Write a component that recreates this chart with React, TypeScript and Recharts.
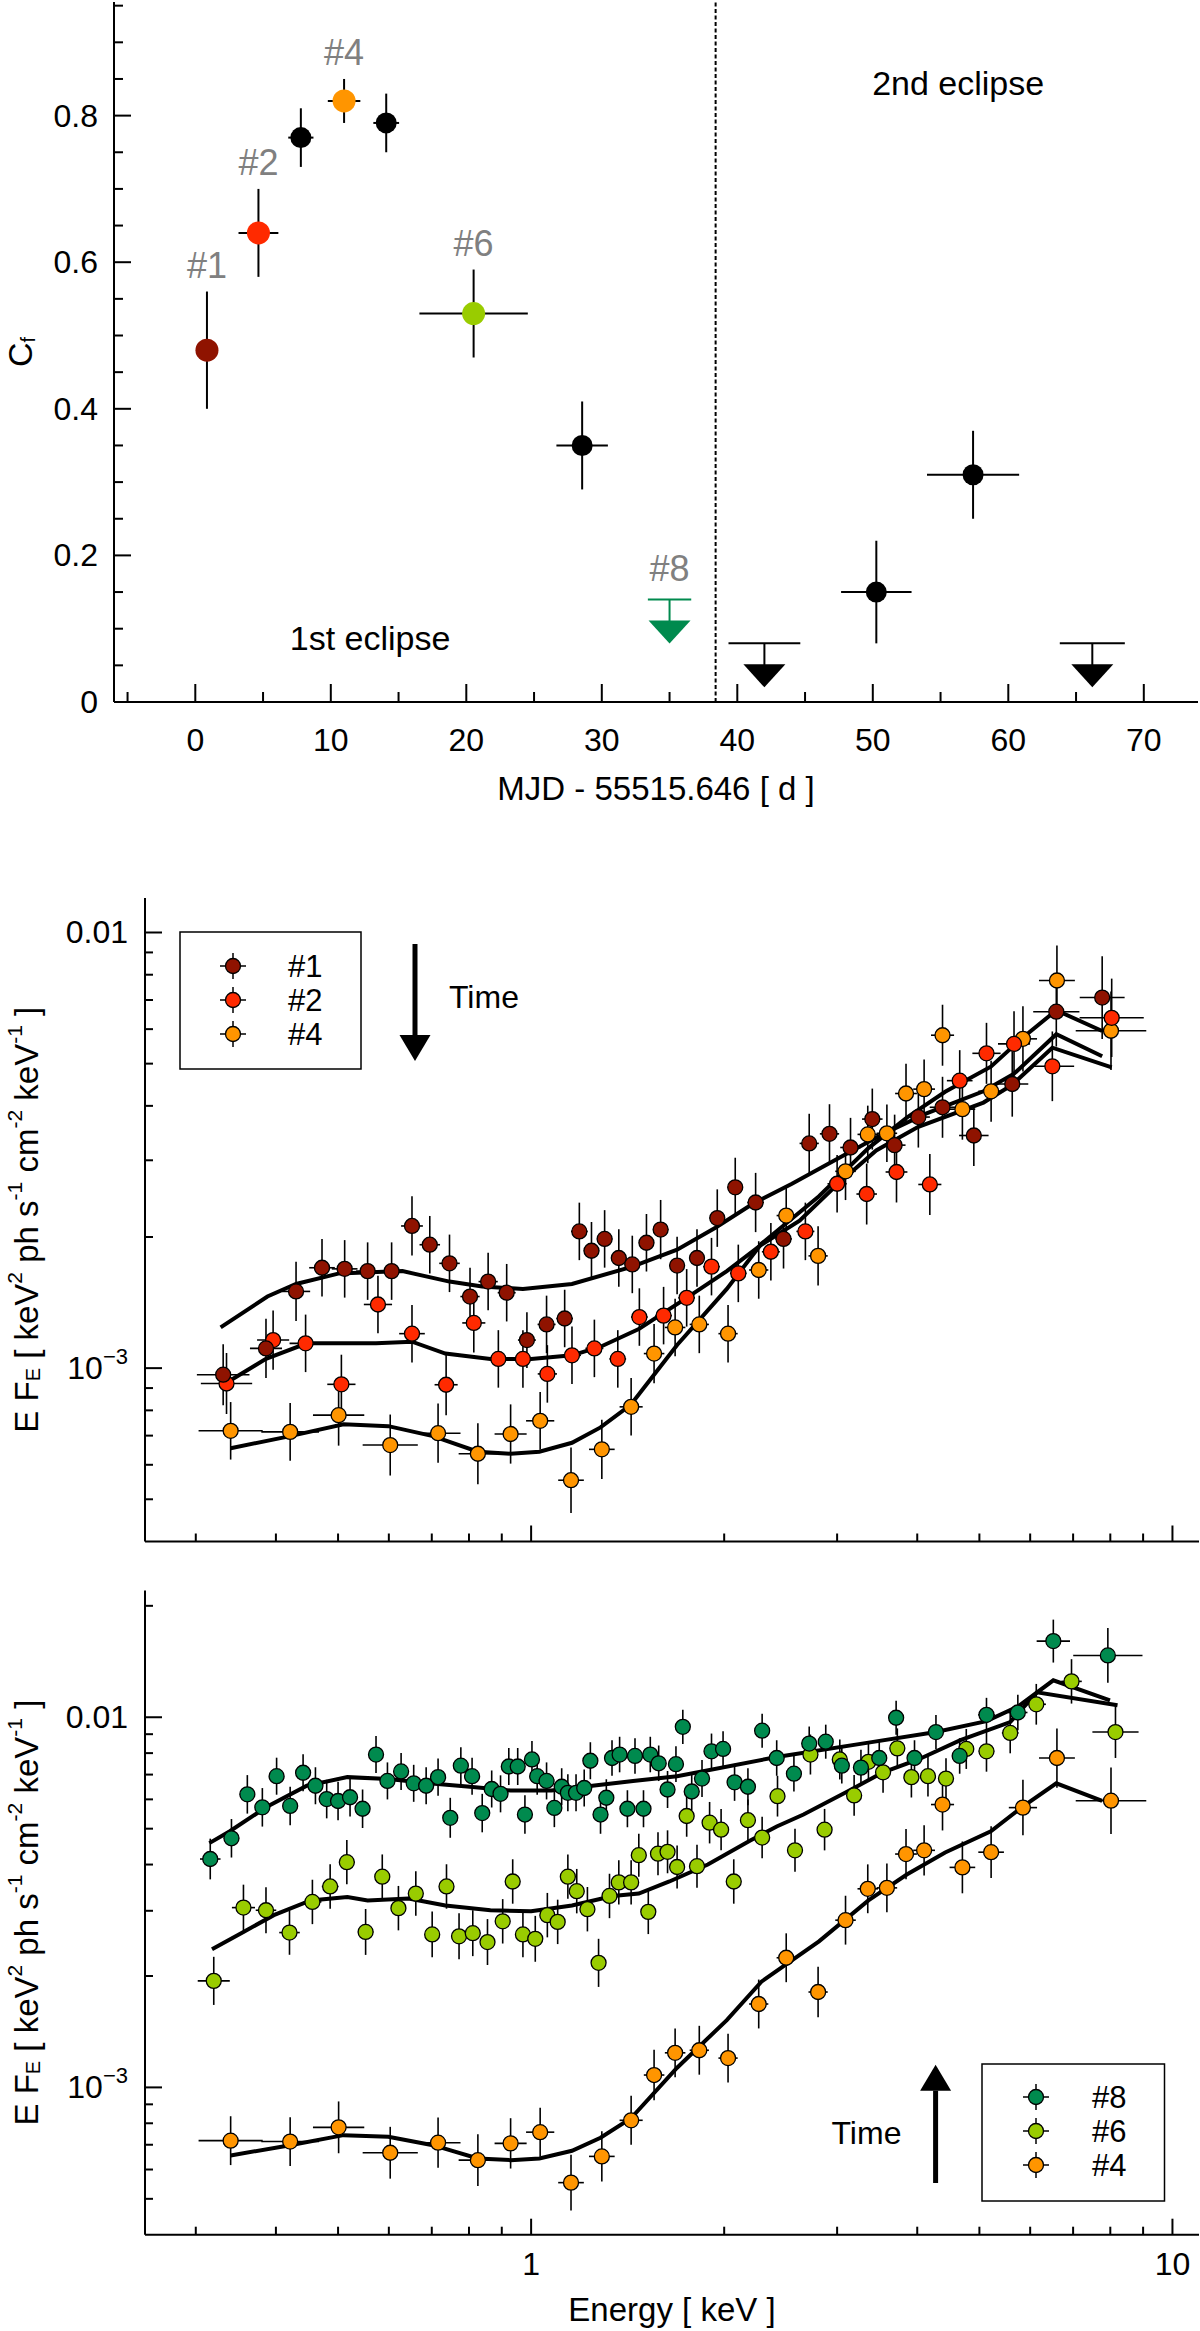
import React from 'react';
import {
  ComposedChart,
  Scatter,
  Line,
  XAxis,
  YAxis,
  ErrorBar,
  ReferenceLine,
  ReferenceDot,
  Legend,
} from 'recharts';

const FONT = '"Liberation Sans", Arial, Helvetica, sans-serif';
const INK = '#000';
const TAG_GREY = '#808080';

const SPEC_COLORS: Record<string, string> = {
  '#1': '#8f1300',
  '#2': '#ff2a00',
  '#4': '#ff9500',
  '#6': '#99cc00',
  '#8': '#008a4e',
};

// ---------- top panel: covering fraction vs time ----------
const TOP_T = [0.86, 4.66, 7.79, 10.98, 14.09, 20.54, 28.55, 50.26, 57.4];
const TOP_CF = [0.48, 0.64, 0.77, 0.82, 0.79, 0.53, 0.35, 0.15, 0.31];
const TOP_T_ERR = [0.6, 1.47, 0.93, 1.2, 0.95, 4.0, 1.9, 2.6, 3.4];
const TOP_CF_ERR = [0.08, 0.06, 0.04, 0.03, 0.04, 0.06, 0.06, 0.07, 0.06];
const TOP_TAG = ['#1', '#2', '', '#4', '', '#6', '', '', ''];

// upper limits
const UL_T = [35.0, 42.0, 66.2];
const UL_CF = [0.14, 0.08, 0.08];
const UL_T_ERR = [1.6, 2.65, 2.4];
const UL_TAG = ['#8', '', ''];

const ECLIPSE_BOUNDARY = 38.4;
const ECLIPSE_NOTES = ['1st eclipse', '2nd eclipse'];
const ECLIPSE_NOTE_T = [12.9, 56.3];
const ECLIPSE_NOTE_CF = [0.088, 0.845];

const T_MAJOR = [0, 10, 20, 30, 40, 50, 60, 70];
const T_MINOR = [-5, 5, 15, 25, 35, 45, 55, 65];
const CF_MAJOR = [0, 0.2, 0.4, 0.6, 0.8];
const CF_MINOR = [0.05, 0.1, 0.15, 0.25, 0.3, 0.35, 0.45, 0.5, 0.55, 0.65, 0.7, 0.75, 0.85, 0.9, 0.95];

// ---------- spectra (E in keV, E F_E in 1e-3 keV^2 ph s^-1 cm^-2 keV^-1, errors in dex) ----------
const SPEC1_E = [0.331, 0.386, 0.43, 0.472, 0.512, 0.556, 0.606, 0.652, 0.695, 0.746, 0.803, 0.857, 0.916, 0.985, 1.057, 1.128, 1.189, 1.242, 1.302, 1.37, 1.438, 1.513, 1.592, 1.689, 1.814, 1.951, 2.081, 2.239, 2.475, 2.714, 2.919, 3.148, 3.404, 3.688, 4.016, 4.38, 4.901, 5.626, 6.59, 7.77];
const SPEC1_F = [0.966, 1.11, 1.5, 1.7, 1.69, 1.67, 1.67, 2.12, 1.92, 1.74, 1.46, 1.58, 1.49, 1.16, 1.26, 1.3, 2.06, 1.86, 1.98, 1.79, 1.73, 1.94, 2.08, 1.72, 1.79, 2.21, 2.6, 2.4, 1.98, 3.28, 3.45, 3.21, 3.73, 3.25, 3.77, 3.97, 3.42, 4.49, 6.58, 7.09];
const SPEC1_E_ERR = [0.041, 0.025, 0.022, 0.02, 0.02, 0.018, 0.018, 0.017, 0.016, 0.016, 0.015, 0.015, 0.014, 0.014, 0.014, 0.013, 0.013, 0.012, 0.012, 0.012, 0.012, 0.012, 0.012, 0.012, 0.012, 0.012, 0.012, 0.013, 0.013, 0.015, 0.015, 0.016, 0.016, 0.017, 0.018, 0.02, 0.023, 0.025, 0.036, 0.035];
const SPEC1_F_ERR = [0.07, 0.068, 0.068, 0.066, 0.066, 0.066, 0.066, 0.068, 0.066, 0.066, 0.066, 0.066, 0.066, 0.064, 0.066, 0.066, 0.066, 0.066, 0.066, 0.066, 0.066, 0.066, 0.068, 0.066, 0.066, 0.066, 0.068, 0.068, 0.068, 0.068, 0.068, 0.068, 0.07, 0.07, 0.07, 0.07, 0.07, 0.075, 0.08, 0.095];

const SPEC2_E = [0.335, 0.396, 0.445, 0.506, 0.577, 0.652, 0.737, 0.814, 0.889, 0.971, 1.06, 1.158, 1.255, 1.365, 1.475, 1.609, 1.748, 1.911, 2.104, 2.365, 2.677, 3.0, 3.336, 3.713, 4.185, 4.659, 5.129, 5.662, 6.497, 8.04];
const SPEC2_F = [0.922, 1.16, 1.14, 0.918, 1.4, 1.2, 0.916, 1.27, 1.05, 1.05, 0.97, 1.07, 1.11, 1.05, 1.31, 1.32, 1.45, 1.71, 1.65, 1.85, 2.06, 2.65, 2.51, 2.82, 2.64, 4.57, 5.28, 5.55, 4.93, 6.37];
const SPEC2_E_ERR = [0.04, 0.025, 0.025, 0.022, 0.022, 0.02, 0.018, 0.018, 0.016, 0.016, 0.015, 0.014, 0.014, 0.013, 0.013, 0.013, 0.013, 0.013, 0.013, 0.014, 0.014, 0.015, 0.016, 0.017, 0.018, 0.02, 0.022, 0.025, 0.034, 0.05];
const SPEC2_F_ERR = [0.07, 0.068, 0.066, 0.068, 0.066, 0.066, 0.07, 0.068, 0.066, 0.066, 0.066, 0.066, 0.066, 0.066, 0.066, 0.066, 0.066, 0.066, 0.066, 0.066, 0.066, 0.066, 0.07, 0.07, 0.07, 0.07, 0.07, 0.075, 0.08, 0.09];

const SPEC4_E = [0.34, 0.421, 0.501, 0.603, 0.716, 0.826, 0.929, 1.033, 1.154, 1.289, 1.432, 1.555, 1.677, 1.829, 2.028, 2.264, 2.499, 2.802, 3.092, 3.349, 3.587, 3.842, 4.1, 4.38, 4.704, 5.215, 5.846, 6.605, 8.02];
const SPEC4_F = [0.718, 0.714, 0.78, 0.666, 0.709, 0.636, 0.706, 0.757, 0.553, 0.651, 0.815, 1.08, 1.24, 1.26, 1.2, 1.68, 2.24, 1.81, 2.83, 3.44, 3.46, 4.27, 4.37, 5.81, 3.93, 4.32, 5.7, 7.76, 5.95];
const SPEC4_E_ERR = [0.05, 0.045, 0.04, 0.043, 0.035, 0.03, 0.025, 0.022, 0.02, 0.02, 0.018, 0.016, 0.016, 0.015, 0.015, 0.015, 0.015, 0.015, 0.016, 0.016, 0.016, 0.017, 0.017, 0.018, 0.02, 0.02, 0.022, 0.028, 0.055];
const SPEC4_F_ERR = [0.066, 0.066, 0.07, 0.07, 0.068, 0.07, 0.068, 0.066, 0.075, 0.068, 0.066, 0.068, 0.066, 0.066, 0.066, 0.066, 0.066, 0.068, 0.066, 0.066, 0.066, 0.068, 0.068, 0.07, 0.07, 0.07, 0.075, 0.08, 0.09];

const SPEC6_E = [0.32, 0.356, 0.386, 0.42, 0.456, 0.486, 0.516, 0.552, 0.586, 0.621, 0.661, 0.701, 0.738, 0.772, 0.811, 0.855, 0.903, 0.936, 0.971, 1.015, 1.06, 1.1, 1.141, 1.178, 1.224, 1.274, 1.325, 1.37, 1.432, 1.472, 1.523, 1.577, 1.632, 1.689, 1.748, 1.814, 1.898, 1.978, 2.07, 2.178, 2.292, 2.422, 2.579, 2.726, 2.868, 3.029, 3.189, 3.357, 3.538, 3.724, 3.917, 4.157, 4.435, 4.77, 5.129, 5.585, 6.133, 6.96, 8.15];
const SPEC6_F = [1.94, 3.06, 3.01, 2.62, 3.17, 3.49, 4.06, 2.63, 3.71, 3.05, 3.34, 2.59, 3.49, 2.56, 2.61, 2.47, 2.81, 3.6, 2.59, 2.52, 2.92, 2.8, 3.71, 3.39, 3.03, 2.17, 3.29, 3.58, 3.58, 4.24, 2.98, 4.28, 4.33, 3.94, 5.41, 3.96, 5.19, 4.97, 3.6, 5.27, 4.73, 6.12, 4.37, 7.93, 4.97, 7.69, 6.15, 7.58, 7.1, 8.24, 6.89, 6.93, 6.83, 8.21, 8.09, 9.07, 10.84, 12.5, 9.12];
const SPEC6_E_ERR = [0.025, 0.018, 0.016, 0.016, 0.014, 0.013, 0.012, 0.012, 0.011, 0.011, 0.01, 0.01, 0.01, 0.01, 0.009, 0.009, 0.009, 0.009, 0.009, 0.009, 0.009, 0.009, 0.009, 0.009, 0.009, 0.009, 0.009, 0.009, 0.009, 0.009, 0.009, 0.009, 0.009, 0.009, 0.009, 0.009, 0.009, 0.009, 0.009, 0.009, 0.009, 0.009, 0.009, 0.009, 0.01, 0.01, 0.01, 0.01, 0.01, 0.01, 0.011, 0.011, 0.011, 0.012, 0.012, 0.013, 0.015, 0.016, 0.036];
const SPEC6_F_ERR = [0.065, 0.062, 0.062, 0.06, 0.06, 0.06, 0.06, 0.062, 0.06, 0.06, 0.06, 0.062, 0.06, 0.062, 0.062, 0.062, 0.06, 0.06, 0.062, 0.062, 0.06, 0.06, 0.06, 0.06, 0.06, 0.065, 0.06, 0.06, 0.06, 0.058, 0.06, 0.058, 0.058, 0.058, 0.056, 0.058, 0.056, 0.056, 0.06, 0.056, 0.056, 0.055, 0.058, 0.054, 0.056, 0.054, 0.055, 0.054, 0.055, 0.054, 0.055, 0.055, 0.055, 0.054, 0.055, 0.055, 0.055, 0.06, 0.07];

const SPEC8_E = [0.316, 0.341, 0.361, 0.381, 0.401, 0.421, 0.441, 0.461, 0.48, 0.5, 0.522, 0.546, 0.573, 0.597, 0.627, 0.656, 0.686, 0.716, 0.748, 0.777, 0.809, 0.839, 0.868, 0.896, 0.923, 0.953, 0.978, 1.003, 1.022, 1.057, 1.087, 1.116, 1.141, 1.175, 1.21, 1.237, 1.283, 1.31, 1.337, 1.374, 1.413, 1.452, 1.497, 1.534, 1.581, 1.632, 1.682, 1.724, 1.78, 1.847, 1.911, 1.992, 2.076, 2.178, 2.292, 2.415, 2.569, 2.714, 2.88, 3.051, 3.268, 3.49, 3.708, 3.961, 4.278, 4.658, 5.129, 5.74, 6.52, 7.93];
const SPEC8_F = [4.14, 4.71, 6.19, 5.71, 6.93, 5.76, 7.08, 6.53, 6.01, 5.94, 6.08, 5.66, 7.93, 6.73, 7.14, 6.63, 6.53, 6.89, 5.35, 7.4, 6.93, 5.51, 6.4, 6.21, 7.36, 7.36, 5.46, 7.69, 6.93, 6.73, 5.69, 6.49, 6.25, 6.25, 6.44, 7.63, 5.46, 6.06, 7.76, 7.93, 5.66, 7.86, 5.66, 7.93, 7.51, 6.38, 7.47, 9.42, 6.3, 6.83, 8.09, 8.21, 6.67, 6.49, 9.2, 7.76, 7.04, 8.49, 8.59, 7.4, 7.31, 7.76, 9.97, 7.76, 9.12, 7.86, 10.15, 10.3, 16.06, 14.69];
const SPEC8_E_ERR = [0.016, 0.012, 0.011, 0.011, 0.01, 0.01, 0.01, 0.009, 0.009, 0.009, 0.009, 0.009, 0.009, 0.009, 0.008, 0.008, 0.008, 0.008, 0.008, 0.008, 0.008, 0.008, 0.008, 0.008, 0.008, 0.008, 0.008, 0.008, 0.008, 0.008, 0.008, 0.008, 0.008, 0.008, 0.008, 0.008, 0.008, 0.008, 0.008, 0.008, 0.008, 0.008, 0.008, 0.008, 0.008, 0.008, 0.008, 0.008, 0.008, 0.008, 0.008, 0.008, 0.008, 0.008, 0.008, 0.009, 0.009, 0.009, 0.009, 0.009, 0.01, 0.01, 0.01, 0.01, 0.011, 0.012, 0.013, 0.015, 0.026, 0.054];
const SPEC8_F_ERR = [0.055, 0.052, 0.052, 0.052, 0.05, 0.052, 0.05, 0.05, 0.052, 0.052, 0.052, 0.052, 0.05, 0.05, 0.05, 0.05, 0.05, 0.05, 0.054, 0.05, 0.05, 0.052, 0.05, 0.05, 0.05, 0.05, 0.052, 0.05, 0.05, 0.05, 0.052, 0.05, 0.05, 0.05, 0.05, 0.05, 0.052, 0.05, 0.048, 0.048, 0.05, 0.048, 0.05, 0.048, 0.048, 0.05, 0.048, 0.046, 0.05, 0.05, 0.048, 0.048, 0.05, 0.05, 0.046, 0.048, 0.048, 0.046, 0.046, 0.048, 0.048, 0.048, 0.046, 0.048, 0.046, 0.048, 0.046, 0.048, 0.058, 0.074];

// best-fit model curves
const MODEL1_E = [0.328, 0.388, 0.43, 0.502, 0.63, 0.746, 0.839, 0.971, 1.158, 1.438, 1.689, 1.938, 2.223, 2.551, 3.009, 3.5, 4.127, 5.073, 5.662, 6.59, 7.77];
const MODEL1_F = [1.24, 1.46, 1.56, 1.65, 1.67, 1.58, 1.54, 1.52, 1.56, 1.71, 1.87, 2.1, 2.39, 2.65, 3.03, 3.42, 3.84, 4.32, 4.74, 5.84, 5.2];
const MODEL2_E = [0.338, 0.386, 0.447, 0.502, 0.573, 0.652, 0.735, 0.864, 1.0, 1.158, 1.283, 1.472, 1.748, 2.019, 2.286, 2.622, 3.009, 3.452, 4.016, 5.073, 5.623, 6.497, 8.04];
const MODEL2_F = [0.933, 1.05, 1.14, 1.14, 1.14, 1.15, 1.08, 1.05, 1.05, 1.07, 1.12, 1.23, 1.45, 1.67, 1.92, 2.18, 2.65, 3.16, 3.58, 4.07, 4.47, 5.44, 4.9];
const MODEL4_E = [0.34, 0.421, 0.51, 0.599, 0.703, 0.826, 0.929, 1.03, 1.158, 1.283, 1.43, 1.689, 2.019, 2.286, 2.811, 3.357, 3.853, 4.422, 5.21, 5.82, 6.59, 7.77];
const MODEL4_F = [0.655, 0.698, 0.743, 0.736, 0.698, 0.643, 0.636, 0.643, 0.674, 0.731, 0.824, 1.13, 1.52, 1.93, 2.48, 3.2, 3.76, 4.31, 4.92, 5.71, 6.63, 5.94];
const MODEL6_E = [0.318, 0.356, 0.397, 0.453, 0.517, 0.556, 0.644, 0.735, 0.864, 1.0, 1.158, 1.341, 1.472, 1.643, 1.886, 2.193, 2.415, 2.659, 3.135, 3.538, 4.016, 4.671, 5.585, 6.15, 8.21];
const MODEL6_F = [2.36, 2.63, 2.92, 3.2, 3.27, 3.2, 3.24, 3.1, 3.01, 2.99, 3.1, 3.29, 3.34, 3.6, 4.0, 4.64, 5.07, 5.46, 6.34, 7.1, 7.69, 8.67, 9.7, 11.68, 10.77];
const MODEL8_E = [0.315, 0.339, 0.386, 0.447, 0.517, 0.599, 0.693, 0.803, 0.929, 1.076, 1.246, 1.442, 1.689, 2.415, 3.357, 4.278, 5.129, 5.74, 6.52, 7.99];
const MODEL8_F = [4.57, 4.92, 5.71, 6.53, 6.89, 6.81, 6.63, 6.49, 6.34, 6.34, 6.53, 6.73, 6.93, 7.81, 8.54, 9.12, 9.76, 10.68, 12.58, 11.1];

const E_MAJOR = [1, 10];
const E_MINOR = [0.3, 0.4, 0.5, 0.6, 0.7, 0.8, 0.9, 2, 3, 4, 5, 6, 7, 8, 9];
const EF_MAJOR = [0.001, 0.01];
const EF_MINOR = [4e-4, 5e-4, 6e-4, 7e-4, 8e-4, 9e-4, 2e-3, 3e-3, 4e-3, 5e-3, 6e-3, 7e-3, 8e-3, 9e-3, 0.02];

// ---------- helpers ----------
type Side = 'bottom' | 'top' | 'left' | 'right';

const isIn = (list: number[], v: number) =>
  list.some((m) => Math.abs(m - v) <= Math.abs(m) * 1e-6 + 1e-12);

function makeTick(
  side: Side,
  majors: number[],
  lens: [number, number],
  fmt?: (v: number) => React.ReactNode,
  gap = 0,
) {
  return (props: any) => {
    const { x, y, payload } = props;
    const v = payload?.value;
    const major = isIn(majors, v);
    const len = major ? lens[0] : lens[1];
    let x2 = x;
    let y2 = y;
    if (side === 'bottom') y2 = y - len;
    if (side === 'top') y2 = y + len;
    if (side === 'left') x2 = x + len;
    if (side === 'right') x2 = x - len;
    const common = { fontSize: 32, fontFamily: FONT, fill: INK, dominantBaseline: 'central' as const };
    return (
      <g>
        <line x1={x} y1={y} x2={x2} y2={y2} stroke={INK} strokeWidth={2} />
        {major && fmt && side === 'bottom' && (
          <text x={x} y={y + gap} textAnchor="middle" {...common}>
            {fmt(v)}
          </text>
        )}
        {major && fmt && side === 'left' && (
          <text x={x - gap} y={y} textAnchor="end" {...common}>
            {fmt(v)}
          </text>
        )}
      </g>
    );
  };
}

const fmtEF = (v: number) =>
  v >= 0.005 ? (
    '0.01'
  ) : (
    <>
      <tspan>10</tspan>
      <tspan dy={-12} fontSize={22}>
        −3
      </tspan>
    </>
  );

const xTitle = (content: React.ReactNode, dy: number) => (props: any) => {
  const vb = props?.viewBox ?? { x: 0, y: 0, width: 0, height: 0 };
  return (
    <text
      x={vb.x + vb.width / 2}
      y={vb.y + dy}
      textAnchor="middle"
      dominantBaseline="central"
      fontSize={33}
      fontFamily={FONT}
      fill={INK}
    >
      {content}
    </text>
  );
};

const yTitle = (content: React.ReactNode, cx: number, fontSize: number) => (props: any) => {
  const vb = props?.viewBox ?? { x: 0, y: 0, width: 0, height: 0 };
  const cy = vb.y + vb.height / 2;
  return (
    <text
      x={cx}
      y={cy}
      textAnchor="middle"
      dominantBaseline="central"
      fontSize={fontSize}
      fontFamily={FONT}
      fill={INK}
      transform={`rotate(-90, ${cx}, ${cy})`}
    >
      {content}
    </text>
  );
};

const EF_TITLE = (
  <>
    <tspan>E F</tspan>
    <tspan fontSize={20} dy={7}>E</tspan>
    <tspan dy={-7}> [ keV</tspan>
    <tspan fontSize={21} dy={-12}>2</tspan>
    <tspan dy={12}> ph s</tspan>
    <tspan fontSize={21} dy={-12}>-1</tspan>
    <tspan dy={12}> cm</tspan>
    <tspan fontSize={21} dy={-12}>-2</tspan>
    <tspan dy={12}> keV</tspan>
    <tspan fontSize={21} dy={-12}>-1</tspan>
    <tspan dy={12}> ]</tspan>
  </>
);

// ---------- top panel rows ----------
const topRows = TOP_T.map((t, i) => ({
  t,
  cf: TOP_CF[i],
  dt: TOP_T_ERR[i],
  dcf: TOP_CF_ERR[i],
  tag: TOP_TAG[i],
}));
const ulRows = UL_T.map((t, i) => ({ t, cf: UL_CF[i], dt: UL_T_ERR[i], tag: UL_TAG[i] }));

const topDot = (p: any) => {
  const tag = p?.payload?.tag;
  const fill = tag ? SPEC_COLORS[tag] : INK;
  return <circle cx={p.cx} cy={p.cy} r={tag ? 11.5 : 10.5} fill={fill} />;
};

const ulShape = (color: string) => (p: any) => (
  <g>
    <line x1={p.cx} y1={p.cy} x2={p.cx} y2={p.cy + 22} stroke={color} strokeWidth={2} />
    <polygon
      points={`${p.cx - 21},${p.cy + 21} ${p.cx + 21},${p.cy + 21} ${p.cx},${p.cy + 44}`}
      fill={color}
    />
  </g>
);

function TopPanel() {
  const T_DOMAIN: [number, number] = [-6, 74];
  const CF_DOMAIN: [number, number] = [0, 0.955];
  const axisLine = { stroke: INK, strokeWidth: 2 };
  return (
    <ComposedChart width={1200} height={830} margin={{ top: 2, right: 2, bottom: 0, left: 0 }}>
      <XAxis
        xAxisId="b"
        type="number"
        dataKey="t"
        domain={T_DOMAIN}
        allowDataOverflow
        ticks={[...T_MINOR, ...T_MAJOR]}
        interval={0}
        tickLine={false}
        tickSize={0}
        tickMargin={0}
        axisLine={axisLine}
        height={128}
        tick={makeTick('bottom', T_MAJOR, [18, 10], (v) => String(v), 38)}
        label={{ content: xTitle('MJD - 55515.646 [ d ]', 86) }}
      />
      <XAxis
        xAxisId="t"
        orientation="top"
        type="number"
        domain={T_DOMAIN}
        allowDataOverflow
        ticks={[...T_MINOR, ...T_MAJOR]}
        interval={0}
        tickLine={false}
        tickSize={0}
        tickMargin={0}
        axisLine={axisLine}
        height={0}
        tick={makeTick('top', T_MAJOR, [18, 10])}
      />
      <YAxis
        yAxisId="l"
        type="number"
        dataKey="cf"
        domain={CF_DOMAIN}
        allowDataOverflow
        ticks={[...CF_MINOR, ...CF_MAJOR]}
        interval={0}
        tickLine={false}
        tickSize={0}
        tickMargin={0}
        axisLine={axisLine}
        width={114}
        tick={makeTick('left', CF_MAJOR, [17, 9], (v) => String(v), 16)}
        label={{
          content: yTitle(
            <>
              <tspan>C</tspan>
              <tspan fontSize={20} dy={8}>f</tspan>
            </>,
            20,
            34,
          ),
        }}
      />
      <YAxis
        yAxisId="r"
        orientation="right"
        type="number"
        domain={CF_DOMAIN}
        allowDataOverflow
        ticks={[...CF_MINOR, ...CF_MAJOR]}
        interval={0}
        tickLine={false}
        tickSize={0}
        tickMargin={0}
        axisLine={axisLine}
        width={0}
        tick={makeTick('right', CF_MAJOR, [17, 9])}
      />
      <ReferenceLine
        xAxisId="b"
        yAxisId="l"
        x={ECLIPSE_BOUNDARY}
        stroke={INK}
        strokeWidth={2}
        strokeDasharray="4 2.5"
      />
      <Scatter xAxisId="b" yAxisId="l" data={topRows} shape={topDot} isAnimationActive={false}>
        <ErrorBar dataKey="dt" direction="x" width={0} stroke={INK} strokeWidth={2} />
        <ErrorBar dataKey="dcf" direction="y" width={0} stroke={INK} strokeWidth={2} />
      </Scatter>
      <Scatter
        xAxisId="b"
        yAxisId="l"
        data={ulRows.filter((r) => r.tag)}
        shape={ulShape(SPEC_COLORS['#8'])}
        isAnimationActive={false}
      >
        <ErrorBar dataKey="dt" direction="x" width={0} stroke={SPEC_COLORS['#8']} strokeWidth={2} />
      </Scatter>
      <Scatter
        xAxisId="b"
        yAxisId="l"
        data={ulRows.filter((r) => !r.tag)}
        shape={ulShape(INK)}
        isAnimationActive={false}
      >
        <ErrorBar dataKey="dt" direction="x" width={0} stroke={INK} strokeWidth={2} />
      </Scatter>
      {topRows
        .filter((r) => r.tag)
        .map((r) => (
          <ReferenceDot
            key={r.tag}
            xAxisId="b"
            yAxisId="l"
            x={r.t}
            y={r.cf + r.dcf}
            r={0}
            fill="none"
            stroke="none"
            label={{ value: r.tag, position: 'top', offset: 14, fill: TAG_GREY, fontSize: 36, fontFamily: FONT }}
          />
        ))}
      {ulRows
        .filter((r) => r.tag)
        .map((r) => (
          <ReferenceDot
            key={r.tag}
            xAxisId="b"
            yAxisId="l"
            x={r.t}
            y={r.cf}
            r={0}
            fill="none"
            stroke="none"
            label={{ value: r.tag, position: 'top', offset: 18, fill: TAG_GREY, fontSize: 36, fontFamily: FONT }}
          />
        ))}
      {ECLIPSE_NOTES.map((note, i) => (
        <ReferenceDot
          key={note}
          xAxisId="b"
          yAxisId="l"
          x={ECLIPSE_NOTE_T[i]}
          y={ECLIPSE_NOTE_CF[i]}
          r={0}
          fill="none"
          stroke="none"
          label={{ value: note, position: 'center', fill: INK, fontSize: 34, fontFamily: FONT }}
        />
      ))}
    </ComposedChart>
  );
}

// ---------- spectra panels ----------
type Spec = { tag: string; e: number[]; f: number[]; eErr: number[]; fErr: number[] };
type Model = { tag: string; e: number[]; f: number[] };

const SPEC1: Spec = { tag: '#1', e: SPEC1_E, f: SPEC1_F, eErr: SPEC1_E_ERR, fErr: SPEC1_F_ERR };
const SPEC2: Spec = { tag: '#2', e: SPEC2_E, f: SPEC2_F, eErr: SPEC2_E_ERR, fErr: SPEC2_F_ERR };
const SPEC4: Spec = { tag: '#4', e: SPEC4_E, f: SPEC4_F, eErr: SPEC4_E_ERR, fErr: SPEC4_F_ERR };
const SPEC6: Spec = { tag: '#6', e: SPEC6_E, f: SPEC6_F, eErr: SPEC6_E_ERR, fErr: SPEC6_F_ERR };
const SPEC8: Spec = { tag: '#8', e: SPEC8_E, f: SPEC8_F, eErr: SPEC8_E_ERR, fErr: SPEC8_F_ERR };
const MODEL1: Model = { tag: '#1', e: MODEL1_E, f: MODEL1_F };
const MODEL2: Model = { tag: '#2', e: MODEL2_E, f: MODEL2_F };
const MODEL4: Model = { tag: '#4', e: MODEL4_E, f: MODEL4_F };
const MODEL6: Model = { tag: '#6', e: MODEL6_E, f: MODEL6_F };
const MODEL8: Model = { tag: '#8', e: MODEL8_E, f: MODEL8_F };

const specRows = (s: Spec) =>
  s.e.map((e, i) => {
    const f = s.f[i] * 1e-3;
    const dx = s.eErr[i] ?? 0.01;
    const dy = s.fErr[i] ?? 0.06;
    return {
      e,
      f,
      ex: [e - e / 10 ** dx, e * 10 ** dx - e],
      fy: [f - f / 10 ** dy, f * 10 ** dy - f],
    };
  });
const modelRows = (m: Model) => m.e.map((e, i) => ({ e, f: m.f[i] * 1e-3 }));

const specDot = (color: string) => (p: any) => (
  <circle cx={p.cx} cy={p.cy} r={7.5} fill={color} stroke={INK} strokeWidth={1.3} />
);

function LegendBox({
  tags,
  box,
  markerX,
  rowY,
  labelX,
  arrow,
  timeX,
  timeY,
  w,
  h,
}: {
  tags: string[];
  box: [number, number, number, number];
  markerX: number;
  rowY: number[];
  labelX: number;
  arrow: { x: number; tail: number; tip: number };
  timeX: number;
  timeY: number;
  w: number;
  h: number;
}) {
  const dir = arrow.tip > arrow.tail ? 1 : -1;
  const headBase = arrow.tip - dir * 26;
  return (
    <svg width={w} height={h} style={{ overflow: 'visible', display: 'block' }}>
      <rect x={box[0]} y={box[1]} width={box[2]} height={box[3]} fill="#fff" stroke={INK} strokeWidth={1.5} />
      {tags.map((tag, i) => (
        <g key={tag}>
          <line x1={markerX - 13} x2={markerX + 13} y1={rowY[i]} y2={rowY[i]} stroke={INK} strokeWidth={1.5} />
          <line x1={markerX} x2={markerX} y1={rowY[i] - 13} y2={rowY[i] + 13} stroke={INK} strokeWidth={1.5} />
          <circle cx={markerX} cy={rowY[i]} r={7.5} fill={SPEC_COLORS[tag]} stroke={INK} strokeWidth={1.3} />
          <text x={labelX} y={rowY[i]} dominantBaseline="central" fontSize={31} fontFamily={FONT} fill={INK}>
            {tag}
          </text>
        </g>
      ))}
      <line x1={arrow.x} x2={arrow.x} y1={arrow.tail} y2={headBase} stroke={INK} strokeWidth={5} />
      <polygon
        points={`${arrow.x - 15.5},${headBase} ${arrow.x + 15.5},${headBase} ${arrow.x},${arrow.tip}`}
        fill={INK}
      />
      <text x={timeX} y={timeY} dominantBaseline="central" fontSize={32} fontFamily={FONT} fill={INK}>
        Time
      </text>
    </svg>
  );
}

function SpectraPanel({
  height,
  plotTop,
  plotBottom,
  efDomain,
  specs,
  models,
  showXLabels,
  legend,
}: {
  height: number;
  plotTop: number;
  plotBottom: number;
  efDomain: [number, number];
  specs: Spec[];
  models: Model[];
  showXLabels: boolean;
  legend: React.ReactNode;
}) {
  const E_DOMAIN: [number, number] = [0.25, 11];
  const axisLine = { stroke: INK, strokeWidth: 2 };
  const efTicks = [...EF_MINOR.filter((v) => v > efDomain[0] && v < efDomain[1]), ...EF_MAJOR];
  const eTicks = [...E_MINOR, ...E_MAJOR];
  return (
    <ComposedChart width={1200} height={height} margin={{ top: plotTop, right: 1, bottom: 0, left: 0 }}>
      <XAxis
        xAxisId="b"
        type="number"
        dataKey="e"
        scale="log"
        domain={E_DOMAIN}
        allowDataOverflow
        ticks={eTicks}
        interval={0}
        tickLine={false}
        tickSize={0}
        tickMargin={0}
        axisLine={axisLine}
        height={height - plotBottom}
        tick={makeTick('bottom', E_MAJOR, [16, 8], showXLabels ? (v) => String(v) : undefined, 29)}
        label={showXLabels ? { content: xTitle('Energy [ keV ]', 75) } : undefined}
      />
      <XAxis
        xAxisId="t"
        orientation="top"
        type="number"
        scale="log"
        domain={E_DOMAIN}
        allowDataOverflow
        ticks={eTicks}
        interval={0}
        tickLine={false}
        tickSize={0}
        tickMargin={0}
        axisLine={axisLine}
        height={0}
        tick={makeTick('top', E_MAJOR, [16, 8])}
      />
      <YAxis
        yAxisId="l"
        type="number"
        dataKey="f"
        scale="log"
        domain={efDomain}
        allowDataOverflow
        ticks={efTicks}
        interval={0}
        tickLine={false}
        tickSize={0}
        tickMargin={0}
        axisLine={axisLine}
        width={145}
        tick={makeTick('left', EF_MAJOR, [17, 8], fmtEF, 17)}
        label={{ content: yTitle(EF_TITLE, 26, 33) }}
      />
      <YAxis
        yAxisId="r"
        orientation="right"
        type="number"
        scale="log"
        domain={efDomain}
        allowDataOverflow
        ticks={efTicks}
        interval={0}
        tickLine={false}
        tickSize={0}
        tickMargin={0}
        axisLine={axisLine}
        width={0}
        tick={makeTick('right', EF_MAJOR, [17, 8])}
      />
      {specs.map((s) => (
        <Scatter
          key={s.tag}
          name={s.tag}
          xAxisId="b"
          yAxisId="l"
          data={specRows(s)}
          shape={specDot(SPEC_COLORS[s.tag])}
          isAnimationActive={false}
        >
          <ErrorBar dataKey="ex" direction="x" width={0} stroke={INK} strokeWidth={1.6} />
          <ErrorBar dataKey="fy" direction="y" width={0} stroke={INK} strokeWidth={1.6} />
        </Scatter>
      ))}
      {models.map((m) => (
        <Line
          key={m.tag}
          xAxisId="b"
          yAxisId="l"
          data={modelRows(m)}
          dataKey="f"
          type="linear"
          stroke={INK}
          strokeWidth={4}
          dot={false}
          legendType="none"
          isAnimationActive={false}
        />
      ))}
      {legend}
    </ComposedChart>
  );
}

export default function App() {
  const middleLegend = (
    <Legend
      layout="horizontal"
      verticalAlign="middle"
      align="center"
      wrapperStyle={{ left: 170, top: 45, width: 320, height: 160 }}
      content={() => (
        <LegendBox
          tags={['#1', '#2', '#4']}
          box={[10, 7, 181, 137]}
          markerX={63}
          rowY={[41, 75, 109]}
          labelX={118}
          arrow={{ x: 245, tail: 19, tip: 136 }}
          timeX={279}
          timeY={72}
          w={320}
          h={160}
        />
      )}
    />
  );
  const bottomLegend = (
    <Legend
      layout="horizontal"
      verticalAlign="middle"
      align="center"
      wrapperStyle={{ left: 820, top: 474, width: 360, height: 160 }}
      content={() => (
        <LegendBox
          tags={['#8', '#6', '#4']}
          box={[162, 10, 182.5, 137]}
          markerX={216}
          rowY={[43, 77, 111]}
          labelX={272}
          arrow={{ x: 115.6, tail: 129, tip: 10.7 }}
          timeX={11.5}
          timeY={79}
          w={360}
          h={160}
        />
      )}
    />
  );
  return (
    <div
      style={{
        position: 'absolute',
        left: 0,
        top: 0,
        width: 1200,
        height: 2331,
        background: '#fff',
        fontFamily: FONT,
        overflow: 'hidden',
      }}
    >
      <div style={{ position: 'absolute', left: 0, top: 0 }}>
        <TopPanel />
      </div>
      <div style={{ position: 'absolute', left: 0, top: 880 }}>
        <SpectraPanel
          height={680}
          plotTop={18}
          plotBottom={661.5}
          efDomain={[4e-4, 0.012]}
          specs={[SPEC4, SPEC2, SPEC1]}
          models={[MODEL1, MODEL2, MODEL4]}
          showXLabels={false}
          legend={middleLegend}
        />
      </div>
      <div style={{ position: 'absolute', left: 0, top: 1580 }}>
        <SpectraPanel
          height={751}
          plotTop={10.5}
          plotBottom={654.7}
          efDomain={[4e-4, 0.022]}
          specs={[SPEC4, SPEC6, SPEC8]}
          models={[MODEL4, MODEL6, MODEL8]}
          showXLabels
          legend={bottomLegend}
        />
      </div>
    </div>
  );
}
